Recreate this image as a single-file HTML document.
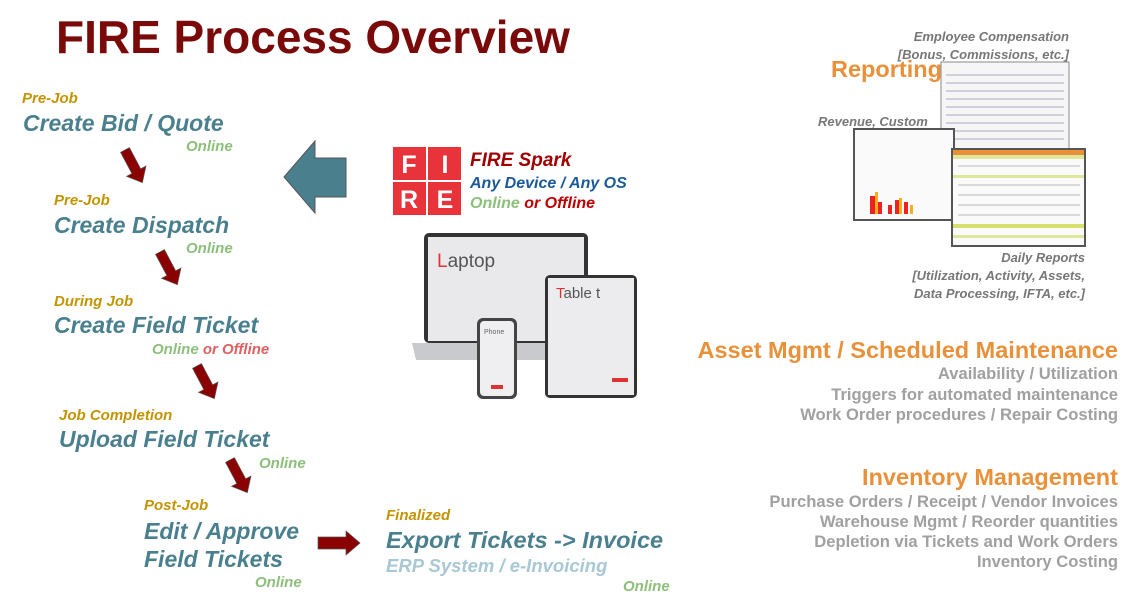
<!DOCTYPE html>
<html><head><meta charset="utf-8"><style>
body{margin:0;width:1141px;height:614px;background:#fff;position:relative;overflow:hidden;font-family:"Liberation Sans",sans-serif}
.a{position:absolute;white-space:nowrap;font-weight:bold;font-style:italic}
.lbl{color:#c49400;font-size:15px}
.st{color:#4a7f8e;font-size:23px}
.on{color:#8cc07a;font-size:15px}
.g{position:absolute;white-space:nowrap;font-weight:bold;color:#a0a0a0;font-size:16.6px;text-align:right}
.o{position:absolute;white-space:nowrap;font-weight:bold;color:#e8913a;font-size:23.5px}
.gi{position:absolute;white-space:nowrap;font-weight:bold;font-style:italic;color:#777;font-size:13px;text-align:right}
</style></head><body>
<div class="a" style="left:56px;top:10px;font-size:46px;font-style:normal;color:#7a0a0a">FIRE Process Overview</div>

<div class="a lbl" style="left:22px;top:90px">Pre-Job</div>
<div class="a st" style="left:23px;top:110px">Create Bid / Quote</div>
<div class="a on" style="left:186px;top:138px">Online</div>

<div class="a lbl" style="left:54px;top:192px">Pre-Job</div>
<div class="a st" style="left:54px;top:212px">Create Dispatch</div>
<div class="a on" style="left:186px;top:240px">Online</div>

<div class="a lbl" style="left:54px;top:293px">During Job</div>
<div class="a st" style="left:54px;top:312px">Create Field Ticket</div>
<div class="a on" style="left:152px;top:341px">Online <span style="color:#e06060">or Offline</span></div>

<div class="a lbl" style="left:59px;top:407px">Job Completion</div>
<div class="a st" style="left:59px;top:426px">Upload Field Ticket</div>
<div class="a on" style="left:259px;top:455px">Online</div>

<div class="a lbl" style="left:144px;top:497px">Post-Job</div>
<div class="a st" style="left:144px;top:517px;line-height:28px">Edit / Approve<br>Field Tickets</div>
<div class="a on" style="left:255px;top:574px">Online</div>

<div class="a lbl" style="left:386px;top:507px">Finalized</div>
<div class="a st" style="left:386px;top:527px;font-size:23.5px">Export Tickets -&gt; Invoice</div>
<div class="a" style="left:386px;top:555px;font-size:18.5px;color:#a8c8d4">ERP System / e-Invoicing</div>
<div class="a on" style="left:623px;top:578px">Online</div>

<svg style="position:absolute;left:0;top:0" width="1141" height="614">
<defs><polygon id="da" points="-5,0 5,0 5,24 11,24 0,37 -11,24 -5,24" fill="#8b0000" stroke="#555" stroke-width="0.7"/></defs>
<use href="#da" transform="translate(125,150) rotate(-28)"/>
<use href="#da" transform="translate(160,252) rotate(-28)"/>
<use href="#da" transform="translate(197,366) rotate(-28)"/>
<use href="#da" transform="translate(230,460) rotate(-28)"/>
<polygon points="318,537 346,537 346,531 360,543 346,555 346,549 318,549" fill="#8b0000" stroke="#555" stroke-width="0.7"/>
<polygon points="284,177 315,141 315,158 346,158 346,197 315,197 315,213" fill="#4a7f8e" stroke="#555" stroke-width="1"/>
<g font-family="Liberation Sans" font-weight="bold" font-size="25" fill="#fff" text-anchor="middle">
<rect x="393" y="147" width="33" height="33" fill="#e8333a"/><text x="409" y="173">F</text>
<rect x="428" y="147" width="33" height="33" fill="#e8333a"/><text x="445" y="173">I</text>
<rect x="393" y="182" width="33" height="33" fill="#e8333a"/><text x="409" y="208">R</text>
<rect x="428" y="182" width="33" height="33" fill="#e8333a"/><text x="445" y="208">E</text>
</g>
<rect x="424" y="233" width="164" height="110" rx="5" fill="#333"/>
<rect x="428" y="237" width="156" height="104" fill="#e9e9ec"/>
<path d="M412 343 L600 343 L596 360 L416 360 Z" fill="#c9cacd"/>
<text x="437" y="267" font-family="Liberation Sans" font-size="19" fill="#555"><tspan fill="#d33">L</tspan>aptop</text>
<rect x="545" y="275" width="92" height="123" rx="5" fill="#333"/>
<rect x="548" y="278" width="86" height="117" fill="#ececee"/>
<text x="556" y="298" font-family="Liberation Sans" font-size="15" fill="#555"><tspan fill="#d33">T</tspan>able t</text>
<rect x="612" y="378" width="16" height="4" fill="#d33"/>
<rect x="477" y="318" width="40" height="81" rx="6" fill="#444"/>
<rect x="480" y="321" width="34" height="75" rx="4" fill="#efeff1"/>
<text x="484" y="334" font-family="Liberation Sans" font-size="7" fill="#666">Phone</text>
<rect x="491" y="385" width="12" height="4" fill="#d33"/>
<rect x="941" y="62" width="128" height="95" fill="#f6f6f6" stroke="#888"/>
<g stroke="#aab" stroke-width="1">
<line x1="946" y1="75" x2="1064" y2="75"/><line x1="946" y1="83" x2="1064" y2="83"/><line x1="946" y1="91" x2="1064" y2="91"/><line x1="946" y1="99" x2="1064" y2="99"/><line x1="946" y1="107" x2="1064" y2="107"/><line x1="946" y1="115" x2="1064" y2="115"/><line x1="946" y1="123" x2="1064" y2="123"/><line x1="946" y1="131" x2="1064" y2="131"/><line x1="946" y1="139" x2="1064" y2="139"/>
</g>
<rect x="854" y="129" width="100" height="91" fill="#fafafa" stroke="#555" stroke-width="2"/>
<g fill="#e22"><rect x="870" y="196" width="5" height="18"/><rect x="878" y="202" width="4" height="12"/><rect x="888" y="205" width="4" height="9"/><rect x="895" y="200" width="4" height="14"/><rect x="904" y="202" width="4" height="12"/></g>
<g fill="#f0b020"><rect x="875" y="192" width="3" height="22"/><rect x="899" y="198" width="3" height="16"/><rect x="910" y="205" width="3" height="9"/></g>
<rect x="952" y="149" width="133" height="97" fill="#fafafa" stroke="#555" stroke-width="2"/>
<rect x="953" y="150" width="131" height="5" fill="#e8913a"/>
<rect x="953" y="155" width="131" height="4" fill="#dfe89a"/>
<rect x="953" y="175" width="131" height="3" fill="#dfe89a"/>
<rect x="953" y="224" width="131" height="4" fill="#d8e070"/>
<rect x="953" y="235" width="131" height="3" fill="#dfe89a"/>
<g stroke="#bbb"><line x1="958" y1="185" x2="1080" y2="185"/><line x1="958" y1="195" x2="1080" y2="195"/><line x1="958" y1="205" x2="1080" y2="205"/><line x1="958" y1="215" x2="1080" y2="215"/><line x1="958" y1="166" x2="1080" y2="166"/></g>
</svg>

<div class="a" style="left:470px;top:150px;font-size:19px;color:#a00000">FIRE Spark</div>
<div class="a" style="left:470px;top:175px;font-size:16px;color:#1a5a9a">Any Device / Any OS</div>
<div class="a" style="left:470px;top:195px;font-size:16px;color:#8cc07a">Online <span style="color:#c00000">or Offline</span></div>

<div class="gi" style="right:72px;top:28px;line-height:18px">Employee Compensation<br>[Bonus, Commissions, etc.]</div>
<div class="o" style="left:831px;top:56px">Reporting</div>
<div class="gi" style="left:818px;top:114px">Revenue, Custom</div>
<div class="gi" style="right:56px;top:249px;line-height:18px">Daily Reports<br>[Utilization, Activity, Assets,<br>Data Processing, IFTA, etc.]</div>

<div class="o" style="right:23px;top:337px">Asset Mgmt / Scheduled Maintenance</div>
<div class="g" style="right:23px;top:364px;line-height:20.5px">Availability / Utilization<br>Triggers for automated maintenance<br>Work Order procedures / Repair Costing</div>

<div class="o" style="right:23px;top:464px">Inventory Management</div>
<div class="g" style="right:23px;top:492px;line-height:20px">Purchase Orders / Receipt / Vendor Invoices<br>Warehouse Mgmt / Reorder quantities<br>Depletion via Tickets and Work Orders<br>Inventory Costing</div>
</body></html>
